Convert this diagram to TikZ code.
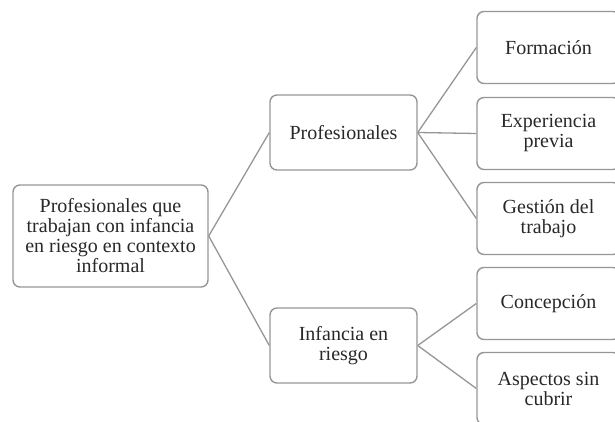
\documentclass[tikz,border=0pt]{standalone}
\usepackage{fontspec}
\setmainfont{Liberation Serif}
\usepackage{tikz}

\begin{document}
\begin{tikzpicture}[x=1pt,y=-1pt]

	\definecolor{boxgray}{RGB}{150,150,150}
	\definecolor{textgray}{RGB}{40,40,40}

	\useasboundingbox (0,0) rectangle (615,422);
	\clip (0,0) rectangle (615,422);

	\tikzstyle{edge} = [draw=boxgray,line width=1.3pt,-]
	\tikzset{item/.style = {shape=rectangle,draw=boxgray,line width=1.4pt,rounded corners=7pt,
		text=textgray,align=center,inner sep=2pt,font=\fontsize{20}{20}\selectfont}}

	\node[item,minimum width=195pt,minimum height=102pt] (root) at (110.5,236) {Profesionales que\\trabajan con infancia\\en riesgo en contexto\\informal};

	\tikzset{mid/.style = {item,minimum width=147pt,minimum height=75pt}}
	\node[mid] (prof) at (343.5,132.5) {Profesionales};
	\node[mid] (inf) at (343.5,345.5) {Infancia en\\riesgo};

	\tikzset{leaf/.style = {item,minimum width=143pt,minimum height=72pt}}
	\node[leaf] (form) at (548.5,47.5) {Formación};
	\node[leaf] (exp) at (548.5,133.5) {Experiencia\\previa};
	\node[leaf] (gest) at (548.5,218.5) {Gestión del\\trabajo};
	\node[leaf] (conc) at (548.5,303.5) {Concepción};
	\node[leaf] (asp) at (548.5,388.5) {Aspectos sin\\cubrir};

	\draw[edge] (root.east) to (prof.west);
	\draw[edge] (root.east) to (inf.west);
	\draw[edge] (prof.east) to (form.west);
	\draw[edge] (prof.east) to (exp.west);
	\draw[edge] (prof.east) to (gest.west);
	\draw[edge] (inf.east) to (conc.west);
	\draw[edge] (inf.east) to (asp.west);
\end{tikzpicture}
\end{document}
